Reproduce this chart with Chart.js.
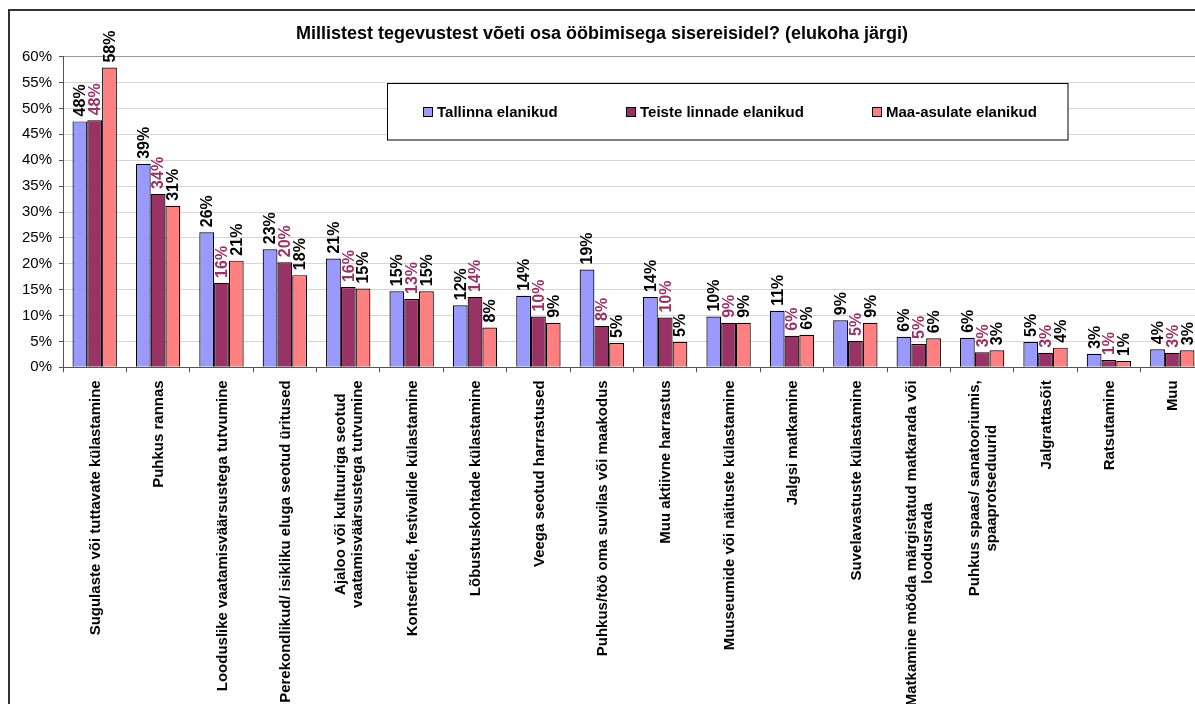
<!DOCTYPE html>
<html>
<head>
<meta charset="utf-8">
<script src="https://cdn.jsdelivr.net/npm/chart.js@4.4.1/dist/chart.umd.min.js"></script>
<style>
  html, body { margin: 0; padding: 0; background: #fff; }
  #wrap { width: 1195px; height: 704px; overflow: hidden; position: relative; }
  canvas { display: block; }
</style>
</head>
<body>
<div id="wrap"><canvas id="chart" width="1214" height="704"></canvas></div>
<script>
const title = "Millistest tegevustest võeti osa ööbimisega sisereisidel? (elukoha järgi)";

const categories = [
  "Sugulaste või tuttavate külastamine",
  "Puhkus rannas",
  "Looduslike vaatamisväärsustega tutvumine",
  "Perekondlikud/ isikliku eluga seotud üritused",
  ["Ajaloo või kultuuriga seotud", "vaatamisväärsustega tutvumine"],
  "Kontsertide, festivalide külastamine",
  "Lõbustuskohtade külastamine",
  "Veega seotud harrastused",
  "Puhkus/töö oma suvilas või maakodus",
  "Muu aktiivne harrastus",
  "Muuseumide või näituste külastamine",
  "Jalgsi matkamine",
  "Suvelavastuste külastamine",
  ["Matkamine mööda märgistatud matkarada või", "loodusrada"],
  ["Puhkus spaas/ sanatooriumis,", "spaaprotseduurid"],
  "Jalgrattasõit",
  "Ratsutamine",
  "Muu"
];

const seriesNames = ["Tallinna elanikud", "Teiste linnade elanikud", "Maa-asulate elanikud"];

const tallinn = [47.5, 39.3, 26.1, 22.8, 21.0, 14.7, 12.0, 13.8, 18.9, 13.6, 9.8, 10.9, 9.1, 5.9, 5.7, 4.9, 2.6, 3.5];
const teised  = [47.7, 33.5, 16.3, 20.3, 15.5, 13.2, 13.6, 9.8, 8.0, 9.6, 8.6, 6.1, 5.1, 4.5, 2.9, 2.8, 1.4, 2.8];
const maa     = [57.9, 31.2, 20.6, 17.8, 15.2, 14.7, 7.7, 8.6, 4.7, 4.9, 8.6, 6.3, 8.6, 5.6, 3.3, 3.8, 1.2, 3.3];

const yTicks = [0, 5, 10, 15, 20, 25, 30, 35, 40, 45, 50, 55, 60];

const fillColors = ["#9999FF", "#993366", "#FF8080"];
const labelColors = ["#000000", "#993366", "#000000"];
const FONT = "'Liberation Sans', Arial, sans-serif";

// white background + outer frame
const framePlugin = {
  id: "frame",
  beforeDraw(chart) {
    const ctx = chart.ctx;
    ctx.save();
    ctx.fillStyle = "#fff";
    ctx.fillRect(0, 0, chart.width, chart.height);
    ctx.strokeStyle = "#333";
    ctx.lineWidth = 2;
    ctx.strokeRect(9, 10, chart.width + 50, chart.height + 50);
    ctx.restore();
  }
};

// rotated value labels above the bars
const valueLabels = {
  id: "valueLabels",
  afterDatasetsDraw(chart) {
    const ctx = chart.ctx;
    ctx.save();
    ctx.font = "bold 16px " + FONT;
    ctx.textAlign = "left";
    ctx.textBaseline = "middle";
    chart.data.datasets.forEach((ds, di) => {
      const meta = chart.getDatasetMeta(di);
      ctx.fillStyle = labelColors[di];
      meta.data.forEach((bar, i) => {
        ctx.save();
        ctx.translate(bar.x + 1, bar.y - 5);
        ctx.rotate(-Math.PI / 2);
        ctx.fillText(Math.round(ds.data[i]) + "%", 0, 0);
        ctx.restore();
      });
    });
    ctx.restore();
  }
};

// rotated category labels, lines centred in their block like Excel does
const categoryLabels = {
  id: "categoryLabels",
  afterDraw(chart) {
    const ctx = chart.ctx;
    const xs = chart.scales.x;
    const top = chart.chartArea.bottom + 13;
    const lh = 16.5;
    ctx.save();
    ctx.font = "bold 15px " + FONT;
    ctx.fillStyle = "#000";
    ctx.textAlign = "center";
    ctx.textBaseline = "middle";
    categories.forEach((c, i) => {
      const lines = Array.isArray(c) ? c : [c];
      const len = Math.max(...lines.map(l => ctx.measureText(l).width));
      ctx.save();
      ctx.translate(xs.getPixelForValue(i) + 1, top);
      ctx.rotate(-Math.PI / 2);
      lines.forEach((l, k) => {
        ctx.fillText(l, -len / 2, (k - (lines.length - 1) / 2) * lh);
      });
      ctx.restore();
    });
    ctx.restore();
  }
};

// legend box inside the plot
const legendBox = {
  id: "legendBox",
  afterDraw(chart) {
    const ctx = chart.ctx;
    const itemX = [423, 626, 872];
    ctx.save();
    ctx.fillStyle = "#fff";
    ctx.fillRect(387.5, 83.5, 680.5, 56.5);
    ctx.strokeStyle = "#000";
    ctx.lineWidth = 1;
    ctx.strokeRect(387.5, 83.5, 680.5, 56.5);
    ctx.font = "bold 15px " + FONT;
    ctx.textBaseline = "middle";
    ctx.textAlign = "left";
    chart.data.datasets.forEach((ds, i) => {
      ctx.fillStyle = ds.backgroundColor;
      ctx.fillRect(itemX[i] + 0.5, 107.5, 9, 9);
      ctx.strokeRect(itemX[i] + 0.5, 107.5, 9, 9);
      ctx.fillStyle = "#000";
      ctx.fillText(ds.label, itemX[i] + 14, 112.5);
    });
    ctx.restore();
  }
};

const datasets = [tallinn, teised, maa].map((d, i) => ({
  label: seriesNames[i],
  data: d,
  backgroundColor: fillColors[i],
  borderColor: "#000",
  borderWidth: 1.2,
  categoryPercentage: 0.7,
  barPercentage: 1.0
}));

new Chart(document.getElementById("chart"), {
  type: "bar",
  data: { labels: categories, datasets: datasets },
  options: {
    responsive: false,
    animation: false,
    layout: { padding: { left: 0, right: 10, top: 0, bottom: 0 } },
    plugins: {
      legend: { display: false },
      tooltip: { enabled: false },
      title: {
        display: true,
        text: title,
        color: "#000",
        font: { family: FONT, size: 18, weight: "bold", lineHeight: 1.2 },
        padding: { top: 23, bottom: 12.1 }
      }
    },
    scales: {
      x: {
        ticks: { display: false },
        grid: {
          offset: true,
          drawOnChartArea: false,
          drawTicks: true,
          tickLength: 5,
          color: "#555"
        },
        border: { color: "#555", width: 1 },
        afterFit: s => { s.height = 704 - 367.3; }
      },
      y: {
        min: 0,
        max: 60,
        afterBuildTicks: s => { s.ticks = yTicks.map(v => ({ value: v })); },
        ticks: {
          callback: v => v + "%",
          color: "#000",
          padding: 7,
          font: { family: FONT, size: 15 }
        },
        grid: {
          color: c => (c.tick && c.tick.value === 60 ? "#999" : "#d6d6d6"),
          tickColor: "#555",
          tickLength: 4
        },
        border: { color: "#555", width: 1 },
        afterFit: s => { s.width = 63; }
      }
    }
  },
  plugins: [framePlugin, valueLabels, categoryLabels, legendBox]
});
</script>
</body>
</html>
